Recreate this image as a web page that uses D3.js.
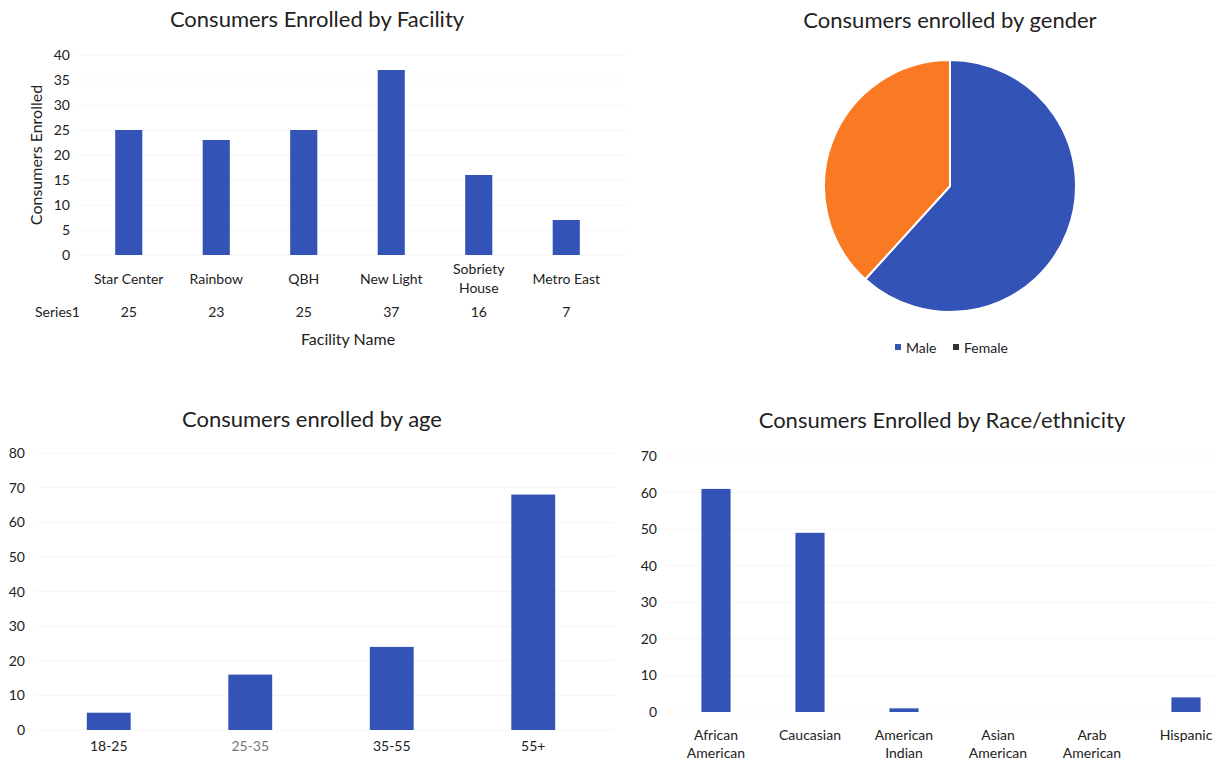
<!DOCTYPE html>
<html>
<head>
<meta charset="utf-8">
<script src="https://cdn.jsdelivr.net/npm/d3@7"></script>
<style>
  body { margin: 0; background: #fff; }
  svg text { font-family: Lato, "Open Sans", sans-serif; fill: #222; }
</style>
</head>
<body>
<svg id="page" width="1217" height="761"></svg>
<script>
// facility chart
var facilities = ['Star Center', 'Rainbow', 'QBH', 'New Light', 'Sobriety House', 'Metro East'];
var facilityCounts = [25, 23, 25, 37, 16, 7];
var facilityTicks = [0, 5, 10, 15, 20, 25, 30, 35, 40];

// gender pie
var genders = ['Male', 'Female'];
var genderCounts = [71, 44];

// age
var ageGroups = ['18-25', '25-35', '35-55', '55+'];
var ageCounts = [5, 16, 24, 68];
var ageTicks = [0, 10, 20, 30, 40, 50, 60, 70, 80];

// race
var races = ['African American', 'Caucasian', 'American Indian', 'Asian American', 'Arab American', 'Hispanic'];
var raceCounts = [61, 49, 1, 0, 0, 4];
var raceTicks = [0, 10, 20, 30, 40, 50, 60, 70];

var BLUE = '#3453b7';
var ORANGE = '#fa7a24';
var svg = d3.select('#page');

function wrapLabel(sel, lineH) {
  sel.each(function(d) {
    var t = d3.select(this);
    var words = d.split(' ');
    t.text(null);
    if (t.attr('data-wrap') === 'no' || words.length < 2) {
      t.append('tspan').attr('x', t.attr('x')).text(d);
      return;
    }
    words.forEach(function(w, i) {
      t.append('tspan').attr('x', t.attr('x')).attr('dy', i ? lineH : 0).text(w);
    });
  });
}

function barChart(opts) {
  var g = svg.append('g');
  // half outer padding keeps band centres at step/2 from the range ends
  var x = d3.scaleBand().domain(opts.cats).range(opts.xRange)
    .paddingInner(opts.pad).paddingOuter(opts.pad / 2);
  var y = d3.scaleLinear().domain([0, opts.max]).range(opts.yRange);

  g.selectAll('line.grid').data(opts.ticks).enter().append('line')
    .attr('class', 'grid')
    .attr('x1', opts.gridX[0]).attr('x2', opts.gridX[1])
    .attr('y1', function(d) { return y(d); }).attr('y2', function(d) { return y(d); })
    .attr('stroke', '#f6f6f6').attr('stroke-width', 1);

  g.selectAll('text.ytick').data(opts.ticks).enter().append('text')
    .attr('class', 'ytick')
    .attr('x', opts.tickX)
    .attr('y', function(d) { return y(d) + 5; })
    .attr('text-anchor', 'end')
    .style('font-size', '14px')
    .text(function(d) { return d; });

  g.selectAll('rect').data(opts.values).enter().append('rect')
    .attr('x', function(d, i) { return x(opts.cats[i]); })
    .attr('width', x.bandwidth())
    .attr('y', function(d) { return y(d); })
    .attr('height', function(d) { return y(0) - y(d); })
    .attr('fill', BLUE);

  var labels = g.selectAll('text.xcat').data(opts.cats).enter().append('text')
    .attr('class', 'xcat')
    .attr('x', function(d) { return x(d) + x.bandwidth() / 2; })
    .attr('y', function(d) { return opts.labelY(d); })
    .attr('text-anchor', 'middle')
    .attr('data-wrap', function(d) { return opts.wrap(d) ? 'yes' : 'no'; })
    .style('font-size', '14px')
    .style('fill', function(d) { return opts.labelColor ? opts.labelColor(d) : '#222'; });
  wrapLabel(labels, opts.lineH || 19);

  svg.append('text')
    .attr('x', opts.titleX).attr('y', opts.titleY)
    .attr('text-anchor', 'middle')
    .style('font-size', '22px')
    .text(opts.title);

  return { x: x, y: y, g: g };
}

// --- Consumers Enrolled by Facility ---
var fac = barChart({
  title: 'Consumers Enrolled by Facility',
  titleX: 317, titleY: 27,
  cats: facilities, values: facilityCounts, ticks: facilityTicks,
  max: 40, xRange: [85, 610], yRange: [255, 55], pad: 0.69,
  gridX: [78, 625], tickX: 70,
  labelY: function(d) { return d === 'Sobriety House' ? 274 : 284; },
  wrap: function(d) { return d === 'Sobriety House'; }
});

svg.append('text')
  .attr('transform', 'translate(42,155) rotate(-90)')
  .attr('text-anchor', 'middle')
  .style('font-size', '16px')
  .text('Consumers Enrolled');

svg.append('text').attr('x', 35).attr('y', 317).style('font-size', '14px').text('Series1');
fac.g.selectAll('text.dt').data(facilityCounts).enter().append('text')
  .attr('class', 'dt')
  .attr('x', function(d, i) { return fac.x(facilities[i]) + fac.x.bandwidth() / 2; })
  .attr('y', 317)
  .attr('text-anchor', 'middle')
  .style('font-size', '14px')
  .text(function(d) { return d; });

svg.append('text').attr('x', 348).attr('y', 345).attr('text-anchor', 'middle')
  .style('font-size', '16px').text('Facility Name');

// --- Consumers enrolled by gender ---
svg.append('text').attr('x', 950).attr('y', 28).attr('text-anchor', 'middle')
  .style('font-size', '22px').text('Consumers enrolled by gender');

var pie = d3.pie().sort(null)(genderCounts);
var arc = d3.arc().innerRadius(0).outerRadius(126);
svg.append('g').attr('transform', 'translate(950,186)')
  .selectAll('path').data(pie).enter().append('path')
  .attr('d', arc)
  .attr('fill', function(d, i) { return i === 0 ? BLUE : ORANGE; })
  .attr('stroke', '#fff').attr('stroke-width', 2);

var legend = svg.append('g').selectAll('g').data(genders).enter().append('g')
  .attr('transform', function(d, i) { return 'translate(' + (895 + i * 58) + ',348)'; });
legend.append('rect').attr('x', 0).attr('y', -4).attr('width', 6).attr('height', 6)
  .attr('fill', function(d, i) { return i === 0 ? BLUE : '#333'; });
legend.append('text').attr('x', 11).attr('y', 5).style('font-size', '14px')
  .text(function(d) { return d; });

// --- Consumers enrolled by age ---
barChart({
  title: 'Consumers enrolled by age',
  titleX: 312, titleY: 427,
  cats: ageGroups, values: ageCounts, ticks: ageTicks,
  max: 80, xRange: [38, 604], yRange: [730, 453], pad: 0.69,
  gridX: [35, 615], tickX: 25,
  labelY: function() { return 751; },
  wrap: function() { return false; },
  labelColor: function(d) { return d === '25-35' ? '#777' : '#222'; }
});

// --- Consumers Enrolled by Race/ethnicity ---
barChart({
  title: 'Consumers Enrolled by Race/ethnicity',
  titleX: 942, titleY: 428,
  cats: races, values: raceCounts, ticks: raceTicks,
  max: 70, xRange: [669, 1233], yRange: [712, 456], pad: 0.69,
  gridX: [665, 1215], tickX: 657,
  labelY: function() { return 740; }, lineH: 18,
  wrap: function(d) { return d.indexOf(' ') > 0; }
});
</script>
</body>
</html>
